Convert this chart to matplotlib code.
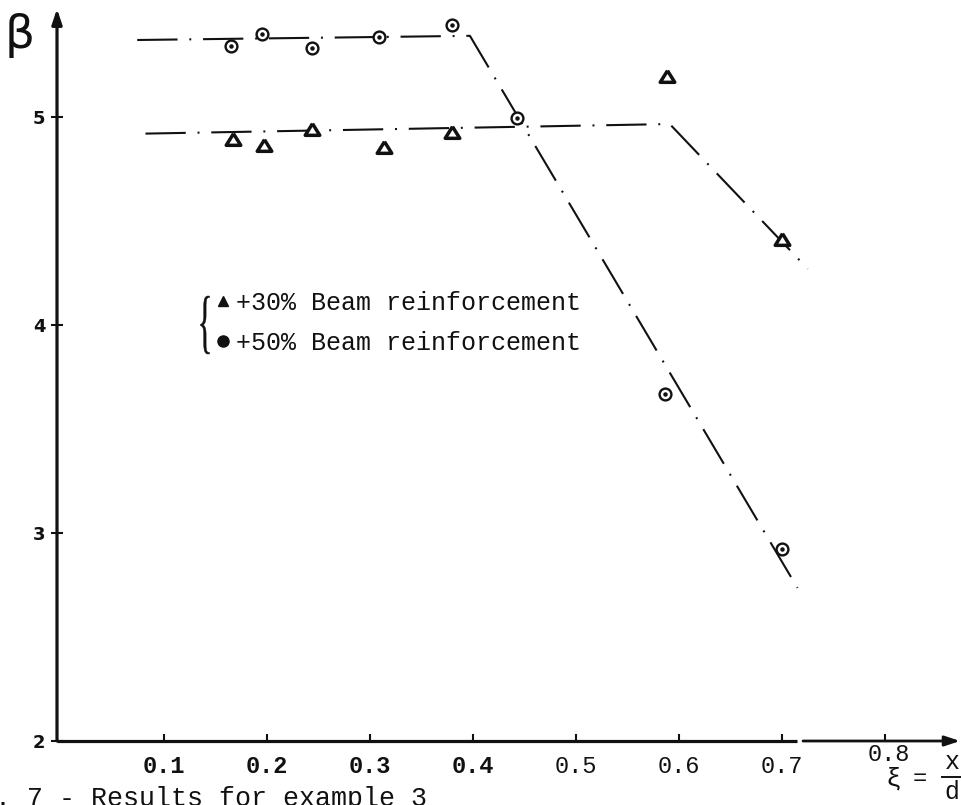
import matplotlib
matplotlib.use("Agg")
import matplotlib.pyplot as plt
from matplotlib.lines import Line2D
from matplotlib.textpath import TextPath
from matplotlib.font_manager import FontProperties
from matplotlib.patches import PathPatch
from matplotlib.transforms import Affine2D, IdentityTransform

plt.rcParams["lines.scale_dashes"] = False
MONO = ["Liberation Mono", "DejaVu Sans Mono"]

# measured reliability index beta versus relative depth xi
xi_50 = [0.165, 0.195, 0.244, 0.309, 0.380, 0.443, 0.586, 0.700]
beta_50 = [5.34, 5.40, 5.33, 5.385, 5.44, 4.995, 3.668, 2.923]
xi_30 = [0.167, 0.197, 0.244, 0.314, 0.380, 0.588, 0.700]
beta_30 = [4.894, 4.865, 4.942, 4.856, 4.928, 5.197, 4.413]

# bilinear trend lines through each series
trend_50_xi = [0.074, 0.397, 0.715]
trend_50_beta = [5.37, 5.39, 2.736]
trend_30_xi = [0.082, 0.591, 0.725]
trend_30_beta = [4.92, 4.966, 4.27]

x_ticks = [0.1, 0.2, 0.3, 0.4, 0.5, 0.6, 0.7, 0.8]
x_tick_labels = ["0.1", "0.2", "0.3", "0.4", "0.5", "0.6", "0.7", "0.8"]
y_ticks = [2, 3, 4, 5]
y_tick_labels = ["2", "3", "4", "5"]
legend_labels = ["+30% Beam reinforcement", "+50% Beam reinforcement"]
caption = "Fig. 7 - Results for example 3"

W, H = 961, 805
fig = plt.figure(figsize=(W / 100, H / 100), dpi=100)
fig.patch.set_facecolor("white")
ax = fig.add_axes([57 / W, 64 / H, 903 / W, 732.2 / H])
x_lo, x_hi = -0.0039, 0.8728
y_lo, y_hi = 2.0, 5.52
ax.set_xlim(x_lo, x_hi)
ax.set_ylim(y_lo, y_hi)
for s in ax.spines.values():
    s.set_visible(False)

ink = "#111111"
dash = (0, (29, 8.5, 1.4, 8.5))

# trend lines
ax.plot(trend_50_xi, trend_50_beta, color=ink, lw=1.5, linestyle=dash,
        dash_capstyle="butt", clip_on=False)
ax.plot(trend_30_xi, trend_30_beta, color=ink, lw=1.5, linestyle=dash,
        dash_capstyle="butt", clip_on=False)

# +50 % series: circle with centre dot
ax.plot(xi_50, beta_50, ls="none", marker="o", mfc="white", mec=ink,
        ms=8.5, mew=1.7, zorder=4)
ax.plot(xi_50, beta_50, ls="none", marker="o", color=ink, ms=2.2, zorder=5)

# +30 % series: bold open triangles
tri = [(0, 1), (-1.25, -1), (1.25, -1), (0, 1)]
ax.plot(xi_30, beta_30, ls="none", marker=tri, mfc="white", mec=ink,
        ms=10.5, mew=2.5, zorder=4)

# axes with arrow heads; the abscissa is broken just past 0.7
ax.annotate("", xy=(x_lo, y_hi), xytext=(x_lo, y_lo),
            arrowprops=dict(arrowstyle="-|>,head_length=0.9,head_width=0.3",
                            lw=2.3, color=ink, shrinkA=0, shrinkB=0),
            annotation_clip=False)
ax.plot([x_lo, 0.7146], [y_lo, y_lo], color=ink, lw=2.3, clip_on=False,
        solid_capstyle="butt")
ax.annotate("", xy=(x_hi, y_lo), xytext=(0.7204, y_lo),
            arrowprops=dict(arrowstyle="-|>,head_length=0.9,head_width=0.3",
                            lw=2.0, color=ink, shrinkA=0, shrinkB=0),
            annotation_clip=False)

# ticks
ax.set_xticks(x_ticks, [lab if lab != "0.8" else "" for lab in x_tick_labels])
ax.tick_params(axis="x", direction="in", length=5, width=1.5, pad=10,
               labelsize=17, colors=ink)
for i, t in enumerate(ax.get_xticklabels()):
    t.set_family(MONO)
    t.set_fontweight("bold" if i < 4 else "normal")
ax.annotate("0.8", xy=(0.8, y_lo), xytext=(3, -1.5), textcoords="offset points",
            ha="center", va="top", fontsize=17, family=MONO, color=ink,
            annotation_clip=False)

ax.set_yticks(y_ticks, y_tick_labels)
ax.tick_params(axis="y", direction="inout", length=9, width=1.5, pad=4,
               labelsize=13, colors=ink)
for t in ax.get_yticklabels():
    t.set_fontweight("bold")

# axis titles
fig.text(20 / W, 1 - 35 / H, "β", fontsize=34, ha="center", va="center",
         color=ink)
fig.text(893 / W, 1 - 779 / H, "ξ", fontsize=19, ha="center", va="center",
         family=MONO, color=ink)
fig.text(920 / W, 1 - 778 / H, "=", fontsize=17, ha="center", va="center",
         family=MONO, color=ink)
fig.text(952 / W, 1 - 762 / H, "x", fontsize=18, ha="center", va="center",
         family=MONO, color=ink)
fig.text(952 / W, 1 - 792 / H, "d", fontsize=18, ha="center", va="center",
         family=MONO, color=ink)
fig.add_artist(Line2D([942 / W, 1.0], [1 - 777 / H] * 2, lw=1.4, color=ink))

# key with brace
handles = [
    Line2D([], [], ls="none", marker="^", color=ink, ms=6.5),
    Line2D([], [], ls="none", marker="o", color=ink, ms=8),
]
leg = ax.legend(handles, legend_labels, loc="center left",
                bbox_to_anchor=(213 / W, 1 - 323 / H),
                bbox_transform=fig.transFigure, frameon=False,
                prop={"family": MONO, "size": 18}, handlelength=0.8,
                handletextpad=0.1, labelspacing=0.62, borderpad=0,
                borderaxespad=0)
for t in leg.get_texts():
    t.set_color(ink)

# tall, slender brace built from a glyph outline (pixel space)
brace = TextPath((0, 0), "{", size=100,
                 prop=FontProperties(family=["Liberation Serif", "DejaVu Serif"]))
ext = brace.get_extents()
bw, bh = 9.0, 58.0
cx, cy = 205.0, H - 325.0
brace_tf = (Affine2D()
            .translate(-(ext.x0 + ext.x1) / 2, -(ext.y0 + ext.y1) / 2)
            .scale(bw / ext.width, bh / ext.height)
            .translate(cx, cy))
fig.add_artist(PathPatch(brace_tf.transform_path(brace), facecolor=ink,
                         edgecolor=ink, lw=0.3, transform=IdentityTransform()))

# caption, partly cut by the page edge
fig.text(-53 / W, -1 / H, caption, fontsize=19.2, ha="left", va="baseline",
         family=MONO, color=ink)

fig.savefig("out.png", dpi=100, facecolor="white")
